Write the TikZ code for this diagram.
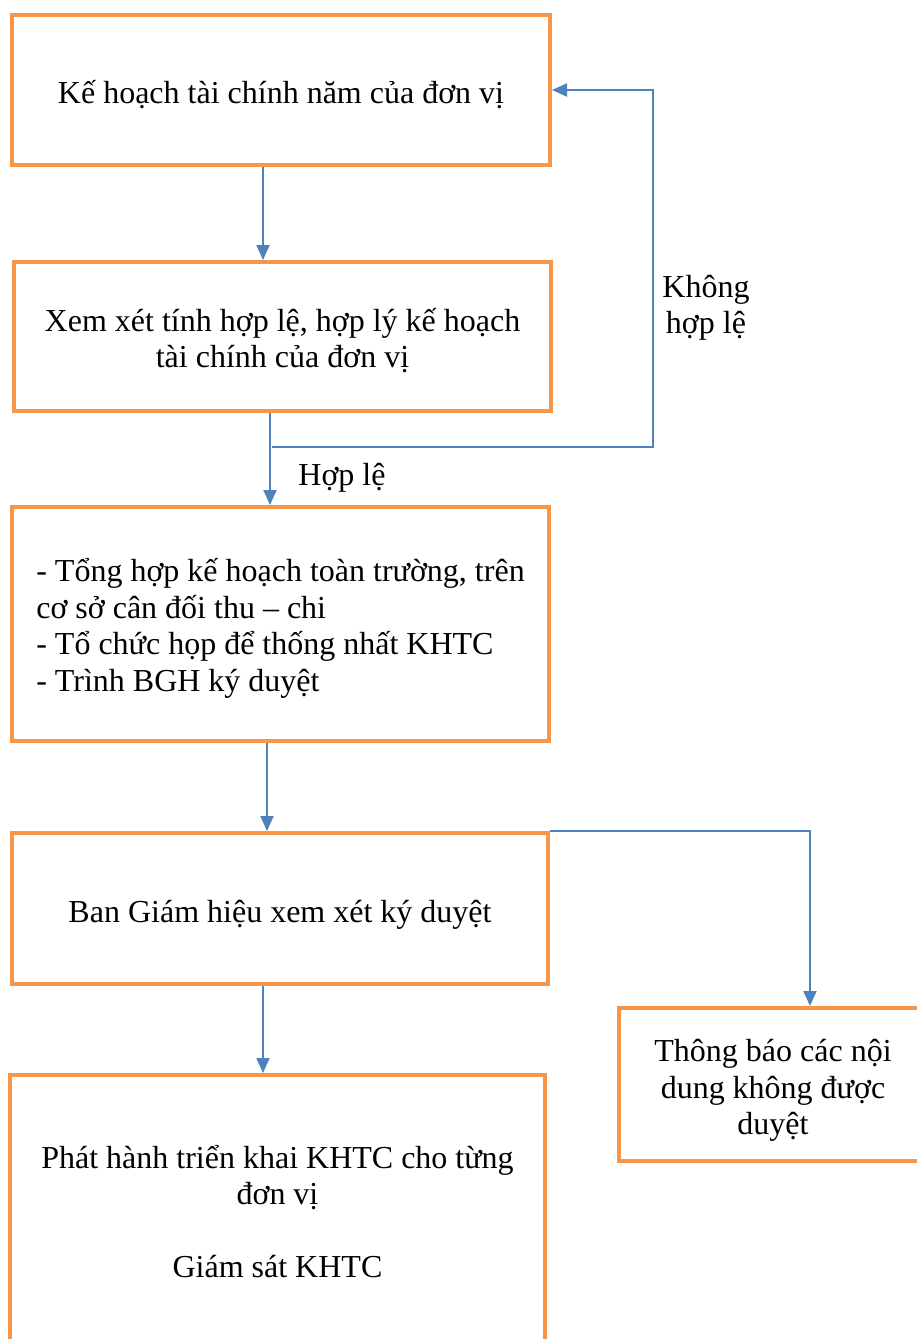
\documentclass[tikz,border=0pt]{standalone}
\usepackage{fontspec}
\setmainfont{Liberation Serif}
\usetikzlibrary{arrows.meta,calc}
\definecolor{boxorange}{HTML}{F79646}
\definecolor{lineblue}{HTML}{4F81BD}
\begin{document}
\begin{tikzpicture}[x=1pt,y=-1pt,
  stepbox/.style={draw=boxorange,line width=4pt,rectangle,inner sep=0pt},
  txt/.style={font=\fontsize{32}{36.5}\selectfont,align=center,inner sep=0pt},
  flow/.style={draw=lineblue,line width=2pt,-{Triangle[length=15pt,width=13pt]}},
  lbl/.style={font=\fontsize{32}{36.5}\selectfont,align=center,inner sep=0pt}]
\useasboundingbox (0,0) rectangle (917,1339);
\clip (0,0) rectangle (917,1339);
\node[stepbox,minimum width=538pt,minimum height=150pt] (b1) at (281,90) {};
\node[stepbox,minimum width=537pt,minimum height=149pt] (b2) at (282.5,336.5) {};
\node[stepbox,minimum width=537pt,minimum height=234pt] (b3) at (280.5,624) {};
\node[stepbox,minimum width=536pt,minimum height=151pt] (b4) at (280,908.5) {};
\node[stepbox,minimum width=535pt,minimum height=273pt] (b5) at (277.5,1211.5) {};
\node[stepbox,minimum width=308pt,minimum height=153pt] (b6) at (773,1084.5) {};
\node[txt] (t1) at ([yshift=-5pt]b1.center) {Kế hoạch tài chính năm của đơn vị};
\node[txt] (t2) at ([yshift=-4pt]b2.center) {Xem xét tính hợp lệ, hợp lý kế hoạch\\tài chính của đơn vị};
\node[txt,align=left] (t3) at ([yshift=-4.5pt]b3.center) {- Tổng hợp kế hoạch toàn trường, trên\\cơ sở cân đối thu -- chi\\- Tổ chức họp để thống nhất KHTC\\- Trình BGH ký duyệt};
\node[txt] (t4) at ([yshift=-6pt]b4.center) {Ban Giám hiệu xem xét ký duyệt};
\node[txt] (t5) at (b5.center) {Phát hành triển khai KHTC cho từng\\đơn vị\\[36.5pt]Giám sát KHTC};
\node[txt] (t6) at ([yshift=-6pt]b6.center) {Thông báo các nội\\dung không được\\duyệt};
\node[lbl] (lk) at (706,308) {Không\\hợp lệ};
\node[lbl] (lh) at (342,478) {Hợp lệ};
\coordinate (x1) at (263,0);
\coordinate (x2) at (270,0);
\coordinate (x3) at (267,0);
\coordinate (x4) at (263,0);
\coordinate (fb) at (272,447);
\coordinate (fr) at (653,447);
\coordinate (rr) at (810,0);
\draw[flow] (b1.south -| x1) -- (b2.north -| x1);
\draw[flow] (b2.south -| x2) -- (b3.north -| x2);
\draw[flow] (fb) -- (fr) |- (b1.east);
\draw[flow] (b3.south -| x3) -- (b4.north -| x3);
\draw[flow] (b4.south -| x4) -- (b5.north -| x4);
\draw[flow] (b4.north east) -| (b6.north -| rr);
\end{tikzpicture}
\end{document}
